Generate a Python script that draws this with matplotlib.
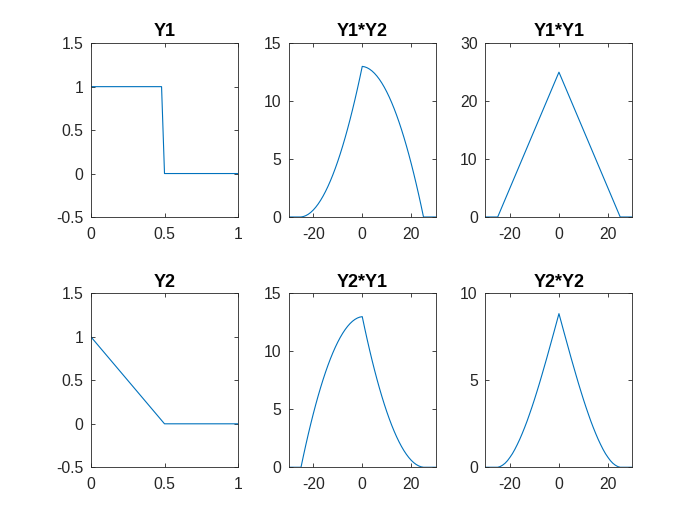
import numpy as np
import matplotlib
matplotlib.use('Agg')
import matplotlib.pyplot as plt
from matplotlib.ticker import FormatStrFormatter

plt.rcParams['font.family'] = ['Liberation Sans', 'DejaVu Sans']

# signals
t_y1 = [0, 0.48, 0.5, 1]
y1 = [1, 1, 0, 0]
t_y2 = [0, 0.5, 1]
y2 = [1, 0, 0]

# correlation lags and values
lags = [-30, -25, -24, -23, -22, -21, -20, -19, -18, -17, -16, -15, -14, -13,
        -12, -11, -10, -9, -8, -7, -6, -5, -4, -3, -2, -1, 0,
        1, 2, 3, 4, 5, 6, 7, 8, 9, 10, 11, 12, 13, 14, 15, 16, 17, 18, 19,
        20, 21, 22, 23, 24, 25, 30]
y1y2 = [0, 0, 0.04, 0.12, 0.24, 0.4, 0.6, 0.84, 1.12, 1.44, 1.8, 2.2, 2.64, 3.12,
        3.64, 4.2, 4.8, 5.44, 6.12, 6.84, 7.6, 8.4, 9.24, 10.12, 11.04, 12, 13,
        12.96, 12.88, 12.76, 12.6, 12.4, 12.16, 11.88, 11.56, 11.2, 10.8, 10.36,
        9.88, 9.36, 8.8, 8.2, 7.56, 6.88, 6.16, 5.4, 4.6, 3.76, 2.88, 1.96, 1.0, 0, 0]
y2y1 = y1y2[::-1]
y2y2_half = [8.84, 8.32, 7.80, 7.29, 6.78, 6.27, 5.78, 5.29, 4.81, 4.35, 3.90,
             3.47, 3.06, 2.66, 2.29, 1.94, 1.61, 1.31, 1.03, 0.78, 0.57, 0.38,
             0.23, 0.12, 0.04, 0, 0]
y2y2 = y2y2_half[::-1] + y2y2_half[1:]
lags_tri = [-30, -25, 0, 25, 30]
y1y1 = [0, 0, 25, 0, 0]

col = '#0072BD'
fig = plt.figure(figsize=(7, 5.25), dpi=100)

def make_ax(rect, title, ylim, yticks, xlim, xticks):
    ax = fig.add_axes(rect)
    ax.set_title(title, fontsize=13, fontweight='bold', pad=5)
    ax.set_ylim(ylim)
    ax.set_yticks(yticks)
    ax.set_xlim(xlim)
    ax.set_xticks(xticks)
    ax.yaxis.set_major_formatter(FormatStrFormatter('%g'))
    ax.xaxis.set_major_formatter(FormatStrFormatter('%g'))
    ax.tick_params(direction='in', top=True, right=True, length=3,
                   width=0.6, color='#262626', labelsize=11.3,
                   labelcolor='#262626')
    ax.tick_params(axis='x', pad=7)
    ax.tick_params(axis='y', pad=5.5)
    for s in ax.spines.values():
        s.set_linewidth(0.6)
        s.set_color('#262626')
    return ax

w, h = 0.21, 0.331
lefts = [0.13, 0.4125, 0.6935]
bots = [0.5867, 0.11]
lw = 0.8

ax = make_ax([lefts[0], bots[0], w, h], 'Y1', (-0.5, 1.5), [-0.5, 0, 0.5, 1, 1.5], (0, 1), [0, 0.5, 1])
ax.plot(t_y1, y1, color=col, lw=lw)
ax = make_ax([lefts[1], bots[0], w, h], 'Y1*Y2', (0, 15), [0, 5, 10, 15], (-30, 30), [-20, 0, 20])
ax.plot(lags, y1y2, color=col, lw=lw)
ax = make_ax([lefts[2], bots[0], w, h], 'Y1*Y1', (0, 30), [0, 10, 20, 30], (-30, 30), [-20, 0, 20])
ax.plot(lags_tri, y1y1, color=col, lw=lw)

ax = make_ax([lefts[0], bots[1], w, h], 'Y2', (-0.5, 1.5), [-0.5, 0, 0.5, 1, 1.5], (0, 1), [0, 0.5, 1])
ax.plot(t_y2, y2, color=col, lw=lw)
ax = make_ax([lefts[1], bots[1], w, h], 'Y2*Y1', (0, 15), [0, 5, 10, 15], (-30, 30), [-20, 0, 20])
ax.plot(lags, y2y1, color=col, lw=lw)
ax = make_ax([lefts[2], bots[1], w, h], 'Y2*Y2', (0, 10), [0, 5, 10], (-30, 30), [-20, 0, 20])
ax.plot(lags, y2y2, color=col, lw=lw)

fig.savefig('out.png', dpi=100)
